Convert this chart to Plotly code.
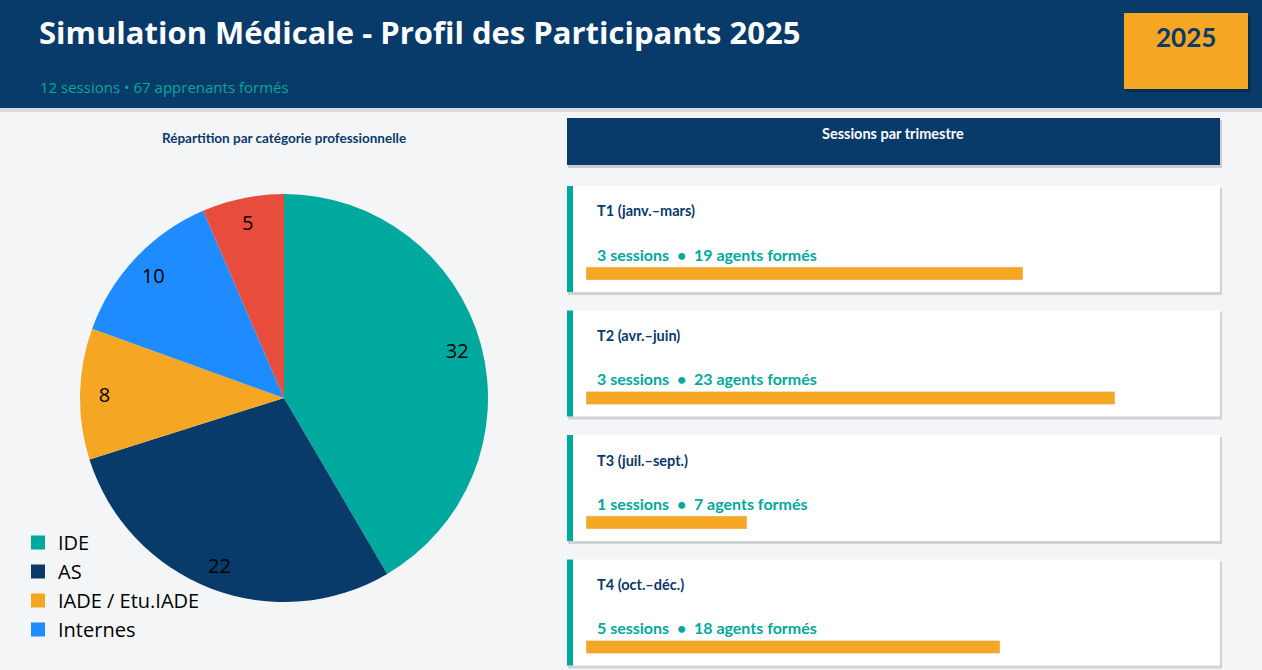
import plotly.graph_objects as go

# --- données ---
categories = ["IDE", "AS", "IADE / Etu.IADE", "Internes", "Médecins"]
participants = [32, 22, 8, 10, 5]
cat_colors = ["#00A99D", "#083A6A", "#F5A623", "#1E8CFF", "#E74C3C"]
legend_cats = ["IDE", "AS", "IADE / Etu.IADE", "Internes"]

trimestres = ["T1 (janv.–mars)", "T2 (avr.–juin)", "T3 (juil.–sept.)", "T4 (oct.–déc.)"]
sessions = [3, 3, 1, 5]
agents = [19, 23, 7, 18]

NAVY = "#083A6A"
TEAL = "#00A99D"
ORANGE = "#F5A623"
BG = "#F4F5F7"
W, H = 1262, 670


def px_x(v):
    return v / W


def px_y(v):
    return 1 - v / H


pie_domain = dict(x=[px_x(80), px_x(488)], y=[px_y(602), px_y(194)])

fig = go.Figure()

# camembert
fig.add_trace(go.Pie(
    labels=categories, values=participants, sort=False, direction="clockwise",
    marker=dict(colors=cat_colors), textinfo="none",
    domain=pie_domain, hoverinfo="label+value", showlegend=False,
))
# étiquettes de valeur près du bord (anneau transparent)
fig.add_trace(go.Pie(
    labels=categories, values=participants, sort=False, direction="clockwise",
    hole=0.76, marker=dict(colors=["rgba(0,0,0,0)"] * len(categories)),
    textinfo="value", textposition="inside", insidetextorientation="horizontal",
    insidetextfont=dict(color="black", size=20, family="Open Sans"),
    domain=pie_domain, hoverinfo="skip", showlegend=False,
))

# légende (4 catégories)
for name, col in zip(legend_cats, cat_colors):
    fig.add_trace(go.Scatter(
        x=[None], y=[None], mode="markers", name=name,
        marker=dict(symbol="square", size=14, color=col), showlegend=True,
    ))

# barres des trimestres
fig.add_trace(go.Bar(
    x=agents, y=list(range(len(trimestres))), orientation="h",
    marker=dict(color=ORANGE), width=0.105, xaxis="x", yaxis="y",
    showlegend=False, hovertext=trimestres, hoverinfo="text+x",
))

shapes = []
annotations = []

# bandeau
shapes.append(dict(type="rect", xref="paper", yref="paper", x0=0, x1=1,
                   y0=px_y(112), y1=px_y(108), fillcolor="#d9dbdf", line_width=0, layer="below"))
shapes.append(dict(type="rect", xref="paper", yref="paper", x0=0, x1=1,
                   y0=px_y(108), y1=1, fillcolor=NAVY, line_width=0, layer="below"))
# badge année
shapes.append(dict(type="rect", xref="paper", yref="paper", x0=px_x(1126), x1=px_x(1251),
                   y0=px_y(92), y1=px_y(16), fillcolor="#062d54", line_width=0, layer="below"))
shapes.append(dict(type="rect", xref="paper", yref="paper", x0=px_x(1124), x1=px_x(1248),
                   y0=px_y(89), y1=px_y(13), fillcolor=ORANGE, line_width=0, layer="below"))

annotations.append(dict(text="<b>Simulation Médicale - Profil des Participants 2025</b>",
                        xref="paper", yref="paper", x=px_x(37), y=px_y(32), xanchor="left",
                        yanchor="middle", showarrow=False,
                        font=dict(color="white", size=31, family="Open Sans")))
annotations.append(dict(text="12 sessions • 67 apprenants formés",
                        xref="paper", yref="paper", x=px_x(38), y=px_y(87), xanchor="left",
                        yanchor="middle", showarrow=False,
                        font=dict(color=TEAL, size=15, family="Open Sans")))
annotations.append(dict(text="<b>2025</b>", xref="paper", yref="paper", x=px_x(1186), y=px_y(37),
                        xanchor="center", yanchor="middle", showarrow=False,
                        font=dict(color=NAVY, size=26, family="Lato")))

annotations.append(dict(text="<b>Répartition par catégorie professionnelle</b>",
                        xref="paper", yref="paper", x=px_x(284), y=px_y(138),
                        xanchor="center", yanchor="middle", showarrow=False,
                        font=dict(color=NAVY, size=13.5, family="Lato")))

# en-tête colonne droite
shapes.append(dict(type="rect", xref="paper", yref="paper", x0=px_x(568), x1=px_x(1222),
                   y0=px_y(168), y1=px_y(120), fillcolor="#c9ccd1", line_width=0, layer="below"))
shapes.append(dict(type="rect", xref="paper", yref="paper", x0=px_x(567), x1=px_x(1220),
                   y0=px_y(165), y1=px_y(118), fillcolor=NAVY, line_width=0, layer="below"))
annotations.append(dict(text="<b>Sessions par trimestre</b>", xref="paper", yref="paper",
                        x=px_x(893), y=px_y(133), xanchor="center", yanchor="middle",
                        showarrow=False, font=dict(color="white", size=14.5, family="Lato")))

# cartes trimestrielles
card_top = [186, 310.5, 435, 559.5]
for i, t in enumerate(trimestres):
    top = card_top[i]
    shapes.append(dict(type="rect", xref="paper", yref="paper", x0=px_x(568), x1=px_x(1222),
                       y0=px_y(top + 109), y1=px_y(top + 2), fillcolor="#cfd2d6",
                       line_width=0, layer="below"))
    shapes.append(dict(type="rect", xref="paper", yref="paper", x0=px_x(567), x1=px_x(1220),
                       y0=px_y(top + 106), y1=px_y(top), fillcolor="white",
                       line_width=0, layer="below"))
    shapes.append(dict(type="rect", xref="paper", yref="paper", x0=px_x(567), x1=px_x(573),
                       y0=px_y(top + 106), y1=px_y(top), fillcolor=TEAL,
                       line_width=0, layer="below"))
    annotations.append(dict(text=f"<b>{t}</b>", xref="paper", yref="paper",
                            x=px_x(595), y=px_y(top + 25), xanchor="left", yanchor="middle",
                            showarrow=False, font=dict(color=NAVY, size=14.5, family="Lato")))
    annotations.append(dict(text=f"<b>{sessions[i]} sessions  •  {agents[i]} agents formés</b>",
                            xref="paper", yref="paper", x=px_x(595), y=px_y(top + 68),
                            xanchor="left", yanchor="middle", showarrow=False,
                            font=dict(color=TEAL, size=16, family="Lato")))

# axes des barres : 23 px par agent, 124.5 px entre cartes
x_left, x_right = 586, 1220
y_top, y_bot = 200, 670
first_center, step = 273.5, 124.5
fig.update_layout(
    xaxis=dict(domain=[px_x(x_left), px_x(x_right)], range=[0, (x_right - x_left) / 23],
               visible=False, fixedrange=True),
    yaxis=dict(domain=[px_y(y_bot), px_y(y_top)],
               range=[(y_bot - first_center) / step, (y_top - first_center) / step],
               visible=False, fixedrange=True),
)

fig.update_layout(
    width=W, height=H,
    margin=dict(l=0, r=0, t=0, b=0),
    paper_bgcolor=BG, plot_bgcolor="rgba(0,0,0,0)",
    shapes=shapes, annotations=annotations,
    legend=dict(x=px_x(18), y=px_y(523), xanchor="left", yanchor="top",
                font=dict(size=20, family="Open Sans", color="black"),
                bgcolor="rgba(0,0,0,0)", tracegroupgap=0),
    font=dict(family="Lato"),
    showlegend=True,
)

fig.write_html("out.html", config={"displayModeBar": False},
               post_script="document.body.style.margin='0';")
